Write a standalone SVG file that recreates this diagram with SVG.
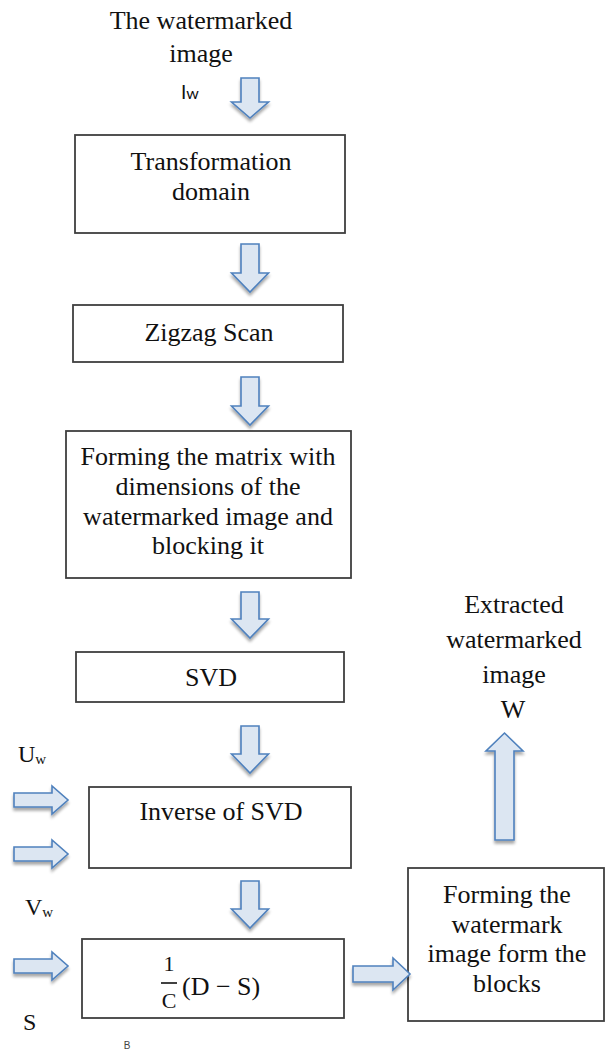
<svg xmlns="http://www.w3.org/2000/svg" width="612" height="1057" viewBox="0 0 612 1057">
  <style>
    .t { font-family: "Liberation Serif", "Times New Roman", serif; font-size: 26px; fill: #111; text-anchor: middle; }
    .lab { font-family: "Liberation Serif", "Times New Roman", serif; font-size: 24px; fill: #111; }
    .sub { font-size: 15px; }
    .box { fill: #fff; stroke: #3f3f3f; stroke-width: 1.8; }
    .arr { fill: #dce6f2; stroke: #4f81bd; stroke-width: 1.6; stroke-linejoin: miter; filter: url(#shadow); }
    .math { font-family: "Liberation Serif", "Cambria Math", serif; fill: #111; }
  </style>
  <defs>
    <filter id="shadow" x="-40%" y="-40%" width="180%" height="180%">
      <feGaussianBlur in="SourceAlpha" stdDeviation="1.6"/>
      <feOffset dx="0" dy="2.5" result="b"/>
      <feComponentTransfer><feFuncA type="linear" slope="0.35"/></feComponentTransfer>
      <feMerge><feMergeNode/><feMergeNode in="SourceGraphic"/></feMerge>
    </filter>
  </defs>
  <rect width="612" height="1057" fill="#fff"/>

  <!-- input label -->
  <g id="input">
    <text class="t" x="201" y="29">The watermarked</text>
    <text class="t" x="201" y="62">image</text>
    <text x="181" y="99" style="font-family:'Lato','Liberation Sans',sans-serif;font-size:19px;fill:#111">I<tspan font-size="16">w</tspan></text>
  </g>

  <g id="transformation">
    <rect class="box" x="75" y="135" width="270" height="98"/>
    <text class="t" x="211" y="170">Transformation</text>
    <text class="t" x="211" y="200">domain</text>
  </g>

  <g id="zigzag">
    <rect class="box" x="73" y="305" width="270" height="57"/>
    <text class="t" x="209" y="341">Zigzag Scan</text>
  </g>

  <g id="matrix">
    <rect class="box" x="66" y="431" width="285" height="147"/>
    <text class="t" x="208" y="465">Forming the matrix with</text>
    <text class="t" x="208" y="495">dimensions of the</text>
    <text class="t" x="208" y="525">watermarked image and</text>
    <text class="t" x="208" y="554">blocking it</text>
  </g>

  <g id="svd">
    <rect class="box" x="76" y="652" width="268" height="50"/>
    <text class="t" x="211" y="686">SVD</text>
  </g>

  <g id="inverse-svd">
    <rect class="box" x="89" y="787" width="262" height="81"/>
    <text class="t" x="221" y="820">Inverse of SVD</text>
  </g>

  <g id="scale">
    <rect class="box" x="82" y="939" width="262" height="79"/>
    <text class="math" x="169" y="971" font-size="22" text-anchor="middle">1</text>
    <line x1="161" y1="983" x2="177" y2="983" stroke="#111" stroke-width="1.6"/>
    <text class="math" x="169" y="1008" font-size="22" text-anchor="middle">C</text>
    <text class="math" x="182" y="995" font-size="26">(D − S)</text>
  </g>

  <g id="rebuild">
    <rect class="box" x="408" y="868" width="196" height="153"/>
    <text class="t" x="507" y="903">Forming the</text>
    <text class="t" x="507" y="933">watermark</text>
    <text class="t" x="507" y="962">image form the</text>
    <text class="t" x="507" y="992">blocks</text>
  </g>

  <g id="output">
    <text class="t" x="514" y="613">Extracted</text>
    <text class="t" x="514" y="648">watermarked</text>
    <text class="t" x="514" y="683">image</text>
    <text class="t" x="513" y="718">W</text>
  </g>

  <g id="inputs">
    <text class="lab" x="18" y="762">U<tspan class="sub" dy="2">w</tspan></text>
    <text class="lab" x="25" y="915">V<tspan class="sub" dy="2">w</tspan></text>
    <text class="lab" x="23" y="1030">S</text>
  </g>

  <text x="127" y="1049" style="font-family:'Liberation Sans',sans-serif;font-size:10px;fill:#444;text-anchor:middle">B</text>

  <!-- block arrows -->
  <g id="connectors">
    <path class="arr" d="M241,78 H259 V102 H268.5 L250,118 L231.5,102 H241 Z"/>
    <path class="arr" d="M241,244 H259 V273 H268.5 L250,292 L231.5,273 H241 Z"/>
    <path class="arr" d="M241,377 H259 V406 H268.5 L250,425 L231.5,406 H241 Z"/>
    <path class="arr" d="M241,592 H259 V619 H268.5 L250,638 L231.5,619 H241 Z"/>
    <path class="arr" d="M241,726 H259 V754 H268.5 L250,773 L231.5,754 H241 Z"/>
    <path class="arr" d="M241,881 H259 V909 H268.5 L250,928 L231.5,909 H241 Z"/>
    <!-- side inputs -->
    <path class="arr" d="M14,793 H52 V786 L68,800 L52,814 V807 H14 Z"/>
    <path class="arr" d="M14,847 H52 V840 L68,854 L52,868 V861 H14 Z"/>
    <path class="arr" d="M14,959 H52 V952 L68,966 L52,980 V973 H14 Z"/>
    <!-- to rebuild box -->
    <path class="arr" d="M353,966 H393 V958 L410,974 L393,990 V982 H353 Z"/>
    <!-- result upward -->
    <path class="arr" d="M495,840 V751 H486 L504.5,733 L523,751 H514 V840 Z"/>
  </g>
</svg>
